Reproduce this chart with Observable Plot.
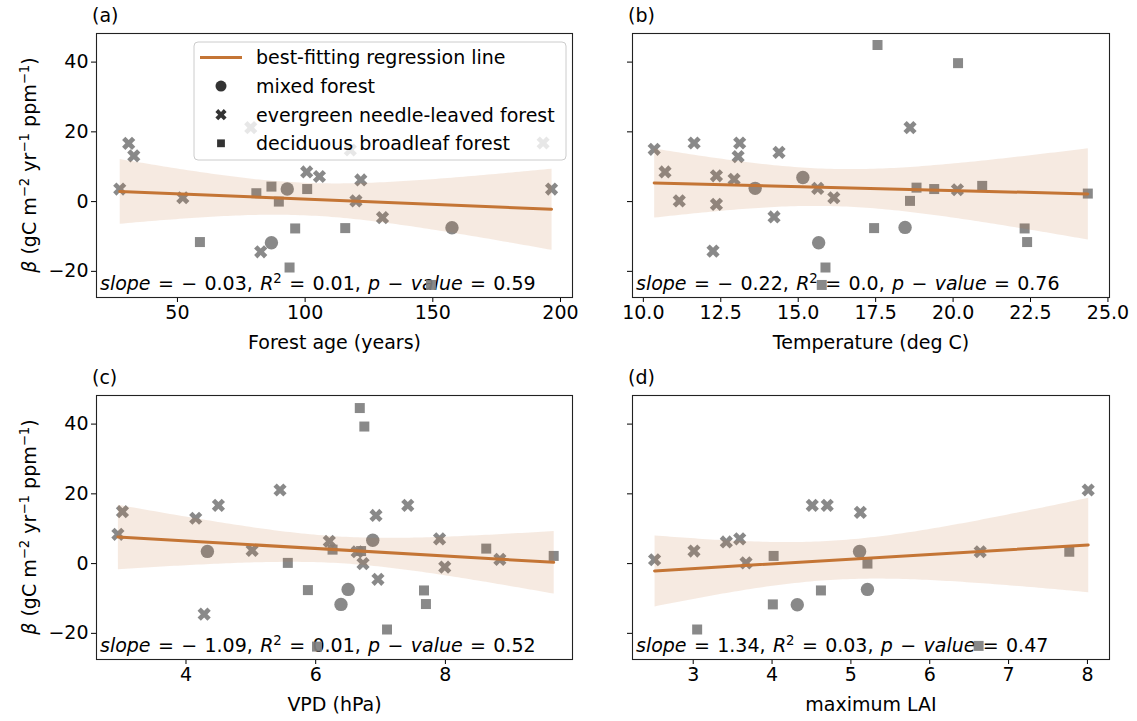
<!DOCTYPE html>
<html><head><meta charset="utf-8">
<script src="https://cdn.jsdelivr.net/npm/d3@7"></script>
<script src="https://cdn.jsdelivr.net/npm/@observablehq/plot@0.6"></script>
<style>
body{margin:0;background:#fff;}
#wrap{position:relative;width:1137px;height:721px;overflow:hidden;background:#fff;}
#wrap svg{position:absolute;}
</style></head><body><div id="wrap"></div>
<script>
// ---------- data (x, beta, forest type: M mixed, E evergreen needle-leaved, D deciduous broadleaf)
const ageData = [
  [27.4,3.6,"E"],[30.9,16.7,"E"],[32.9,13.1,"E"],[52.1,1.1,"E"],[58.8,-11.6,"D"],
  [78.7,21.2,"E"],[80.9,2.4,"D"],[82.6,-14.4,"E"],[86.8,4.3,"D"],[86.8,-11.8,"M"],
  [89.7,0.0,"D"],[93.0,3.6,"M"],[93.9,-18.9,"D"],[96.1,-7.7,"D"],[100.6,8.5,"E"],
  [100.8,3.6,"D"],[105.6,7.2,"E"],[115.7,-7.6,"D"],[117.7,14.8,"E"],[119.9,0.2,"E"],
  [121.8,6.2,"E"],[130.3,-4.6,"E"],[149.3,-23.9,"D"],[157.5,-7.5,"M"],[193.2,16.8,"E"],
  [196.5,3.6,"E"]
];
const tempData = [
  [10.35,15.0,"E"],[10.70,8.5,"E"],[11.16,0.2,"E"],[11.64,16.8,"E"],[12.25,-14.2,"E"],
  [12.36,7.4,"E"],[12.36,-0.8,"E"],[12.93,6.4,"E"],[13.06,12.9,"E"],[13.11,16.8,"E"],
  [13.61,3.8,"M"],[14.22,-4.4,"E"],[14.38,14.1,"E"],[15.15,6.9,"M"],[15.63,3.8,"E"],
  [15.66,-11.8,"M"],[15.88,-18.9,"D"],[15.76,-23.9,"D"],[16.15,1.1,"E"],[17.45,-7.6,"D"],
  [17.56,44.9,"D"],[18.45,-7.4,"M"],[18.61,21.2,"E"],[18.61,0.2,"D"],[18.82,4.0,"D"],
  [19.39,3.6,"D"],[20.14,3.4,"E"],[20.16,39.7,"D"],[20.94,4.5,"D"],[22.31,-7.7,"D"],
  [22.39,-11.6,"D"],[24.35,2.3,"D"]
];
const vpdData = [
  [2.95,8.4,"E"],[3.02,14.9,"E"],[4.15,13.0,"E"],[4.28,-14.5,"E"],[4.33,3.5,"M"],
  [4.50,16.7,"E"],[5.02,3.8,"E"],[5.45,21.1,"E"],[5.57,0.2,"D"],[5.88,-7.6,"D"],
  [6.02,-23.8,"D"],[6.21,6.4,"E"],[6.26,4.0,"D"],[6.39,-11.7,"M"],[6.50,-7.4,"M"],
  [6.64,3.4,"E"],[6.70,3.6,"D"],[6.68,44.6,"D"],[6.73,0.0,"E"],[6.75,39.3,"D"],
  [6.88,6.7,"M"],[6.93,13.8,"E"],[6.96,-4.5,"E"],[7.10,-18.9,"D"],[7.42,16.7,"E"],
  [7.67,-7.7,"D"],[7.70,-11.6,"D"],[7.91,7.1,"E"],[7.99,-1.0,"E"],[8.63,4.3,"D"],
  [8.84,1.2,"E"],[9.67,2.2,"D"]
];
const laiData = [
  [2.51,1.1,"E"],[3.01,3.6,"E"],[3.05,-18.9,"D"],[3.42,6.2,"E"],[3.59,7.1,"E"],
  [3.67,0.2,"E"],[4.01,-11.7,"D"],[4.02,2.2,"D"],[4.32,-11.8,"M"],[4.51,16.7,"E"],
  [4.62,-7.7,"D"],[4.70,16.7,"E"],[5.11,3.5,"M"],[5.12,14.7,"E"],[5.21,0.0,"D"],
  [5.21,-7.4,"M"],[6.64,3.4,"E"],[6.62,-23.6,"D"],[7.77,3.4,"D"],[8.01,21.1,"E"]
];
const panelTags = ["(a)","(b)","(c)","(d)"];
const xLabels = ["Forest age (years)","Temperature (deg C)","VPD (hPa)","maximum LAI"];
const xTickSets = [[50,100,150,200],[10,12.5,15,17.5,20,22.5,25],[4,6,8],[3,4,5,6,7,8]];
const yTicks = [-20,0,20,40];
const slopeText = ["\u22120.03","\u22120.22","\u22121.09","1.34"];
const r2Text = ["0.01","0.0","0.01","0.03"];
const pText = ["0.59","0.76","0.52","0.47"];
const legendLabels = ["best-fitting regression line","mixed forest","evergreen needle-leaved forest","deciduous broadleaf forest"];

// ---------- style
const FONT = 19;
const FAMILY = "DejaVu Sans";
const pointColor = "#7f7f7f";
const lineColor = "#c47535";
const ciLevels = [0.95, 0.95, 0.85, 0.95];

const symX = {draw(ctx, size){
  const r = Math.sqrt(size/Math.PI), k = r/2;
  const p = [[-1,-2],[0,-1],[1,-2],[2,-1],[1,0],[2,1],[1,2],[0,1],[-1,2],[-2,1],[-1,0],[-2,-1]];
  ctx.moveTo(p[0][0]*k,p[0][1]*k);
  for (let i=1;i<p.length;i++) ctx.lineTo(p[i][0]*k,p[i][1]*k);
  ctx.closePath();
}};
const symSq = {draw(ctx, size){
  const r = Math.sqrt(size/Math.PI);
  ctx.moveTo(-r,-r); ctx.lineTo(r,-r); ctx.lineTo(r,r); ctx.lineTo(-r,r); ctx.closePath();
}};

function mathText(parent, segs, fs, anchor){
  const t = parent.append("text").attr("font-family", FAMILY).attr("font-size", fs).attr("fill","#000")
    .attr("text-anchor", anchor || "start");
  let shift = 0;
  for (const [s, kind] of segs){
    const sp = t.append("tspan").text(s).style("white-space","pre");
    if (kind === "i") sp.attr("font-style","italic");
    if (kind === "s"){
      sp.attr("font-size", fs*0.7).attr("dy", -fs*0.38 - shift); shift = -fs*0.38;
    } else if (shift !== 0){
      sp.attr("dy", -shift); shift = 0;
    }
  }
  return t;
}

const layouts = [
  {left:0, top:0, width:576, height:360, mL:96, mR:4, mT:33, mB:63, showY:true},
  {left:576, top:0, width:561, height:360, mL:56, mR:28, mT:33, mB:63, showY:false},
  {left:0, top:362, width:576, height:359, mL:96, mR:4, mT:33, mB:62, showY:true},
  {left:576, top:362, width:561, height:359, mL:56, mR:28, mT:33, mB:62, showY:false}
];
const datasets = [ageData, tempData, vpdData, laiData];
const xDomains = [[18.3,204.7],[9.65,25.05],[2.62,9.96],[2.23,8.28]];
const xFormats = [d=>d, d=>d.toFixed(1), d=>d, d=>d];

const wrap = document.getElementById("wrap");
datasets.forEach((data, i) => {
  const L = layouts[i];
  const X = d=>d[0], Y = d=>d[1];
  const svgNode = Plot.plot({
    width: L.width, height: L.height,
    marginLeft: L.mL, marginRight: L.mR, marginTop: L.mT, marginBottom: L.mB,
    style: {background:"transparent", overflow:"visible", fontFamily: FAMILY, fontSize: FONT+"px", color:"#000"},
    x: {domain: xDomains[i]},
    y: {domain: [-27.5, 48.2]},
    marks: [
      Plot.axisX({ticks: xTickSets[i], tickSize: 5, tickPadding: 3, tickFormat: xFormats[i], label: null, fontSize: FONT}),
      Plot.axisY({ticks: yTicks, tickSize: 5, tickPadding: 3, tickFormat: L.showY ? (d => d < 0 ? "\u2212"+Math.abs(d) : String(d)) : (() => ""), label: null, fontSize: FONT}),
      Plot.dot(data.filter(d=>d[2]==="M"), {x:X, y:Y, symbol:"circle", r:6.7, fill:pointColor, fillOpacity:0.92}),
      Plot.dot(data.filter(d=>d[2]==="E"), {x:X, y:Y, symbol:symX, r:6.6, fill:pointColor, fillOpacity:0.92}),
      Plot.dot(data.filter(d=>d[2]==="D"), {x:X, y:Y, symbol:symSq, r:5, fill:pointColor, fillOpacity:0.92}),
      Plot.linearRegressionY(data, {x:X, y:Y, stroke:lineColor, fill:lineColor, fillOpacity:0.15, strokeWidth:3, ci: ciLevels[i]}),
      Plot.frame({stroke:"#222", strokeWidth:1.1}),
      Plot.text([xLabels[i]], {frameAnchor:"bottom", dy:45, text:d=>d, fontSize:FONT, lineAnchor:"middle", fill:"#000"})
    ]
  });
  svgNode.style.left = L.left + "px";
  svgNode.style.top = L.top + "px";
  wrap.appendChild(svgNode);
  const svg = d3.select(svgNode);
  const frameBottom = L.height - L.mB;

  // annotation beneath the points
  const annG = document.createElementNS("http://www.w3.org/2000/svg","g");
  const styleEl = svgNode.querySelector("style");
  svgNode.insertBefore(annG, styleEl ? styleEl.nextSibling : svgNode.firstChild);
  const ann = mathText(d3.select(annG), [
    ["slope","i"],[" = ","n"],[slopeText[i].replace("\u2212","\u2212 "),"n"],[", ","n"],
    ["R","i"],["2","s"],[" = "+r2Text[i]+", ","n"],["p","i"],[" \u2212 ","n"],["value","i"],[" = "+pText[i],"n"]
  ], FONT, "start");
  ann.attr("x", L.mL + 4).attr("y", frameBottom - 7).attr("word-spacing", "1.3px");

  // panel tag
  svg.append("text").attr("x", L.mL - 4).attr("y", 22).attr("text-anchor","start")
    .attr("font-family", FAMILY).attr("font-size", FONT).attr("fill","#000").text(panelTags[i]);

  // y label
  if (L.showY){
    const cy = (L.mT + frameBottom)/2;
    const yl = mathText(svg, [["\u03B2","i"],[" (gC m","n"],["\u22122","s"],[" yr","n"],["\u22121","s"],[" ppm","n"],["\u22121","s"],[")","n"]], FONT, "middle");
    yl.attr("transform", `translate(36,${cy}) rotate(-90)`);
  }

  // legend in panel (a)
  if (i === 0){
    const frameRight = L.width - L.mR;
    const bw = 372, bh = 118, bx = frameRight - 6 - bw, by = L.mT + 9;
    const g = svg.append("g");
    g.append("rect").attr("x",bx).attr("y",by).attr("width",bw).attr("height",bh).attr("rx",4)
      .attr("fill","#fff").attr("fill-opacity",0.8).attr("stroke","#cccccc").attr("stroke-width",1);
    const rows = legendLabels.map((_, k) => by + 15.5 + k*28.6);
    const mx = bx + 27;
    g.append("line").attr("x1",bx+6).attr("x2",bx+48).attr("y1",rows[0]).attr("y2",rows[0]).attr("stroke",lineColor).attr("stroke-width",3);
    g.append("circle").attr("cx",mx).attr("cy",rows[1]).attr("r",5.5).attr("fill","#333");
    g.append("path").attr("transform",`translate(${mx},${rows[2]})`).attr("d", d3.symbol(symX, 5.6*5.6*Math.PI)()).attr("fill","#333");
    g.append("path").attr("transform",`translate(${mx},${rows[3]})`).attr("d", d3.symbol(symSq, 3.9*3.9*Math.PI)()).attr("fill","#333");
    legendLabels.forEach((s,k) => {
      g.append("text").attr("x", bx+62).attr("y", rows[k]+6.8).attr("text-anchor","start")
        .attr("font-family",FAMILY).attr("font-size",FONT).attr("fill","#000").text(s);
    });
  }
});
</script></body></html>
